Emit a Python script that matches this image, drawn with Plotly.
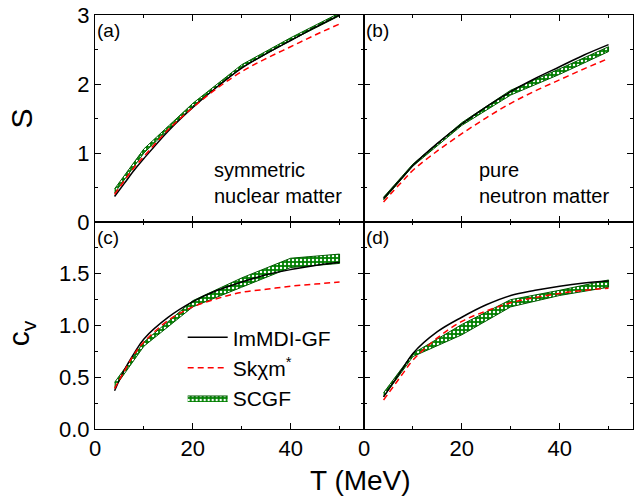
import plotly.graph_objects as go
from plotly.subplots import make_subplots

# ---------------- data ----------------
T_line = [4, 6, 8, 10, 15, 20, 25, 30, 35, 40, 45, 50]
T_band = [4, 10, 20, 30, 40, 50]

# (a) entropy, symmetric nuclear matter
S_snm_immdi = [0.37, 0.56, 0.75, 0.92, 1.32, 1.66, 1.96, 2.23, 2.44, 2.63, 2.82, 3.00]
S_snm_skxm = [0.40, 0.60, 0.79, 0.95, 1.34, 1.66, 1.94, 2.18, 2.37, 2.54, 2.71, 2.87]
S_snm_scgf_lo = [0.42, 1.00, 1.68, 2.24, 2.63, 2.99]
S_snm_scgf_hi = [0.48, 1.06, 1.72, 2.28, 2.67, 3.03]

# (b) entropy, pure neutron matter
S_pnm_immdi = [0.34, 0.50, 0.66, 0.82, 1.14, 1.42, 1.67, 1.89, 2.08, 2.25, 2.42, 2.57]
S_pnm_skxm = [0.29, 0.45, 0.60, 0.75, 1.03, 1.28, 1.51, 1.72, 1.90, 2.06, 2.22, 2.37]
S_pnm_scgf_lo = [0.32, 0.81, 1.40, 1.84, 2.14, 2.47]
S_pnm_scgf_hi = [0.36, 0.84, 1.44, 1.91, 2.22, 2.54]

# (c) heat capacity, symmetric nuclear matter
cv_snm_immdi = [0.37, 0.57, 0.73, 0.87, 1.08, 1.23, 1.34, 1.42, 1.49, 1.54, 1.58, 1.61]
cv_snm_skxm = [0.39, 0.56, 0.72, 0.84, 1.05, 1.18, 1.26, 1.32, 1.35, 1.38, 1.40, 1.42]
cv_snm_scgf_lo = [0.40, 0.80, 1.18, 1.37, 1.56, 1.60]
cv_snm_scgf_hi = [0.45, 0.84, 1.24, 1.46, 1.65, 1.69]

# (d) heat capacity, pure neutron matter
cv_pnm_immdi = [0.31, 0.45, 0.59, 0.73, 0.94, 1.08, 1.20, 1.29, 1.34, 1.38, 1.41, 1.43]
cv_pnm_skxm = [0.28, 0.41, 0.54, 0.665, 0.88, 1.04, 1.14, 1.22, 1.27, 1.31, 1.34, 1.36]
cv_pnm_scgf_lo = [0.31, 0.70, 0.91, 1.18, 1.29, 1.37]
cv_pnm_scgf_hi = [0.35, 0.73, 1.01, 1.25, 1.34, 1.44]

names = ["ImMDI-GF", "Sk\u03c7m<sup>*</sup>", "SCGF"]
panel_labels = ["(a)", "(b)", "(c)", "(d)"]
x_ticks = [0, 20, 40]
S_ticks = [0, 1, 2, 3]
cv_ticks = [0.0, 0.5, 1.0, 1.5]

FONT = "Liberation Sans, Arial, sans-serif"

fig = make_subplots(rows=2, cols=2, horizontal_spacing=0, vertical_spacing=0)

panels = [
    (1, 1, S_snm_immdi, S_snm_skxm, S_snm_scgf_lo, S_snm_scgf_hi),
    (1, 2, S_pnm_immdi, S_pnm_skxm, S_pnm_scgf_lo, S_pnm_scgf_hi),
    (2, 1, cv_snm_immdi, cv_snm_skxm, cv_snm_scgf_lo, cv_snm_scgf_hi),
    (2, 2, cv_pnm_immdi, cv_pnm_skxm, cv_pnm_scgf_lo, cv_pnm_scgf_hi),
]

for r, c, immdi, skxm, lo, hi in panels:
    show = (r == 2 and c == 1)
    fig.add_trace(go.Scatter(
        x=T_band + T_band[::-1], y=hi + lo[::-1],
        mode="lines", fill="toself",
        fillcolor="#008000",
        fillpattern=dict(shape=".", fgcolor="white", bgcolor="#008000",
                         fgopacity=1, size=4, solidity=0.3),
        line=dict(color="#005a00", width=1),
        name=names[2], legendgroup="scgf", showlegend=show, legendrank=3,
    ), row=r, col=c)
    fig.add_trace(go.Scatter(
        x=T_line, y=immdi, mode="lines", line_shape="spline",
        line=dict(color="black", width=1.5),
        name=names[0], legendgroup="immdi", showlegend=show, legendrank=1,
    ), row=r, col=c)
    fig.add_trace(go.Scatter(
        x=T_line, y=skxm, mode="lines", line_shape="spline",
        line=dict(color="#FF0000", width=1.5, dash="6px,4px"),
        name=names[1], legendgroup="skxm", showlegend=show, legendrank=2,
    ), row=r, col=c)

axis_common = dict(
    showline=True, linecolor="black", linewidth=1, mirror="allticks",
    ticks="inside", ticklen=6, tickwidth=1, tickcolor="black",
    showgrid=False, zeroline=False,
    tickfont=dict(family=FONT, size=22, color="black"),
)

for r in (1, 2):
    for c in (1, 2):
        fig.update_xaxes(
            range=[0, 55], tickvals=x_ticks, showticklabels=(r == 2),
            minor=dict(ticks="inside", ticklen=3, tickcolor="black", dtick=10, tick0=0),
            row=r, col=c, **axis_common)
        if r == 1:
            fig.update_yaxes(
                range=[0, 3], tickvals=S_ticks, showticklabels=(c == 1),
                minor=dict(ticks="inside", ticklen=3, tickcolor="black", dtick=0.5, tick0=0),
                row=r, col=c, **axis_common)
        else:
            fig.update_yaxes(
                range=[0, 2], tickvals=cv_ticks, tickformat=".1f", showticklabels=(c == 1),
                minor=dict(ticks="inside", ticklen=3, tickcolor="black", dtick=0.25, tick0=0),
                row=r, col=c, **axis_common)

annotations = []
axis_ids = [("x", "y"), ("x2", "y2"), ("x3", "y3"), ("x4", "y4")]
for (xa, ya), lab in zip(axis_ids, panel_labels):
    annotations.append(dict(
        text=lab, xref=f"{xa} domain", yref=f"{ya} domain", x=0.0, y=0.985,
        xanchor="left", yanchor="top", showarrow=False,
        font=dict(family=FONT, size=19, color="black")))

annotations.append(dict(
    text="symmetric<br>nuclear matter", xref="x domain", yref="y domain",
    x=0.434, y=0.19, xanchor="left", yanchor="middle", align="left", showarrow=False,
    font=dict(family=FONT, size=20, color="black")))
annotations.append(dict(
    text="pure<br>neutron matter", xref="x2 domain", yref="y2 domain",
    x=0.421, y=0.19, xanchor="left", yanchor="middle", align="left", showarrow=False,
    font=dict(family=FONT, size=20, color="black")))

annotations.append(dict(
    text="S", xref="paper", yref="paper", x=-0.137, y=0.751,
    xanchor="center", yanchor="middle", textangle=-90, showarrow=False,
    font=dict(family=FONT, size=30, color="black")))
annotations.append(dict(
    text="c<sub>v</sub>", xref="paper", yref="paper", x=-0.137, y=0.232,
    xanchor="center", yanchor="middle", textangle=-90, showarrow=False,
    font=dict(family=FONT, size=30, color="black")))
annotations.append(dict(
    text="T (MeV)", xref="paper", yref="paper", x=0.4926, y=-0.124,
    xanchor="center", yanchor="middle", showarrow=False,
    font=dict(family=FONT, size=28, color="black")))

fig.update_layout(
    width=634, height=497,
    margin=dict(l=95, r=1, t=15, b=68),
    paper_bgcolor="white", plot_bgcolor="white",
    font=dict(family=FONT, color="black"),
    annotations=annotations,
    legend=dict(
        x=0.163, y=0.27, xanchor="left", yanchor="top",
        bgcolor="rgba(0,0,0,0)", borderwidth=0,
        font=dict(family=FONT, size=21, color="black"),
        traceorder="normal", itemwidth=40, tracegroupgap=0,
    ),
)

fig.write_html("out.html", config={"displayModeBar": False},
               post_script="document.body.style.margin='0px';")
